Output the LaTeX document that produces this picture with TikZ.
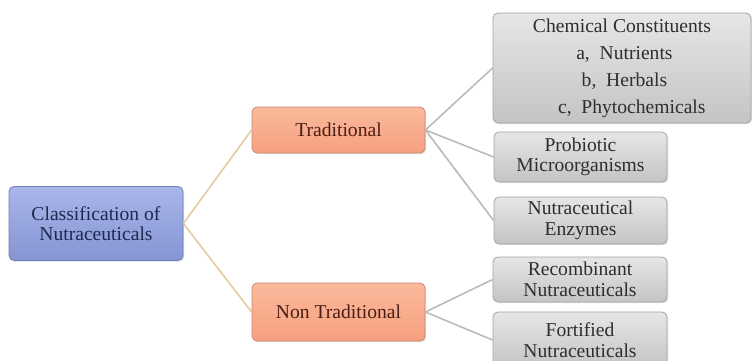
\documentclass[tikz,border=0pt]{standalone}
\usepackage{fontspec}
\setmainfont{Liberation Serif}
\usetikzlibrary{shadows}
\definecolor{rootA}{HTML}{A9B6EA}
\definecolor{rootB}{HTML}{8595D3}
\definecolor{rootD}{HTML}{6F7FB8}
\definecolor{rootT}{HTML}{1E2850}
\definecolor{salA}{HTML}{FBB99C}
\definecolor{salB}{HTML}{F6A07F}
\definecolor{salD}{HTML}{C98B73}
\definecolor{salT}{HTML}{4A1E14}
\definecolor{gryA}{HTML}{E6E6E6}
\definecolor{gryB}{HTML}{C4C4C4}
\definecolor{gryD}{HTML}{A4A4A4}
\definecolor{gryT}{HTML}{2E2E2E}
\definecolor{tanL}{HTML}{E6C79E}
\definecolor{gryL}{HTML}{B8B8B8}
\tikzset{
  boxbase/.style={rectangle, rounded corners=5pt, align=center, inner sep=2pt,
    font=\fontsize{19.6}{20.5}\selectfont, line width=0.8pt,
    drop shadow={opacity=0.25, shadow xshift=1.2pt, shadow yshift=-1.2pt}},
  rootbox/.style={boxbase, draw=rootD, top color=rootA, bottom color=rootB, text=rootT},
  salbox/.style={boxbase, draw=salD, top color=salA, bottom color=salB, text=salT},
  grybox/.style={boxbase, draw=gryD, top color=gryA, bottom color=gryB, text=gryT},
  tanline/.style={draw=tanL, line width=1.5pt},
  gryline/.style={draw=gryL, line width=1.5pt}
}
\begin{document}
\begin{tikzpicture}[x=1pt,y=-1pt]
\useasboundingbox[fill=white] (0,0) rectangle (752,361);
\node[rootbox, minimum width=174pt, minimum height=74pt] (root) at (96,223.5) {Classification of\\Nutraceuticals};
\node[salbox, minimum width=173pt, minimum height=46pt] (trad) at (338.5,130) {Traditional};
\node[salbox, minimum width=173pt, minimum height=58pt] (nontrad) at (338.5,312) {Non Traditional};
\node[grybox, minimum width=258pt, minimum height=110pt, font=\fontsize{19.6}{27}\selectfont] (chem) at (622,68) {Chemical Constituents\\ \ a,\ \ Nutrients\\ \ b,\ \ Herbals\\ \ \ \ \ c,\ \ Phytochemicals};
\node[grybox, minimum width=173pt, minimum height=50pt] (prob) at (580.5,157) {Probiotic\\Microorganisms};
\node[grybox, minimum width=173pt, minimum height=47pt] (enz) at (580.5,220.5) {Nutraceutical\\Enzymes};
\node[grybox, minimum width=174pt, minimum height=45pt] (rec) at (580,279.5) {Recombinant\\Nutraceuticals};
\node[grybox, minimum width=174pt, minimum height=56pt] (fort) at (580,340) {Fortified\\Nutraceuticals};
\draw[tanline] (root.east) -- (trad.west);
\draw[tanline] (root.east) -- (nontrad.west);
\draw[gryline] (trad.east) -- (chem.west);
\draw[gryline] (trad.east) -- (prob.west);
\draw[gryline] (trad.east) -- (enz.west);
\draw[gryline] (nontrad.east) -- (rec.west);
\draw[gryline] (nontrad.east) -- (fort.west);
\end{tikzpicture}
\end{document}
